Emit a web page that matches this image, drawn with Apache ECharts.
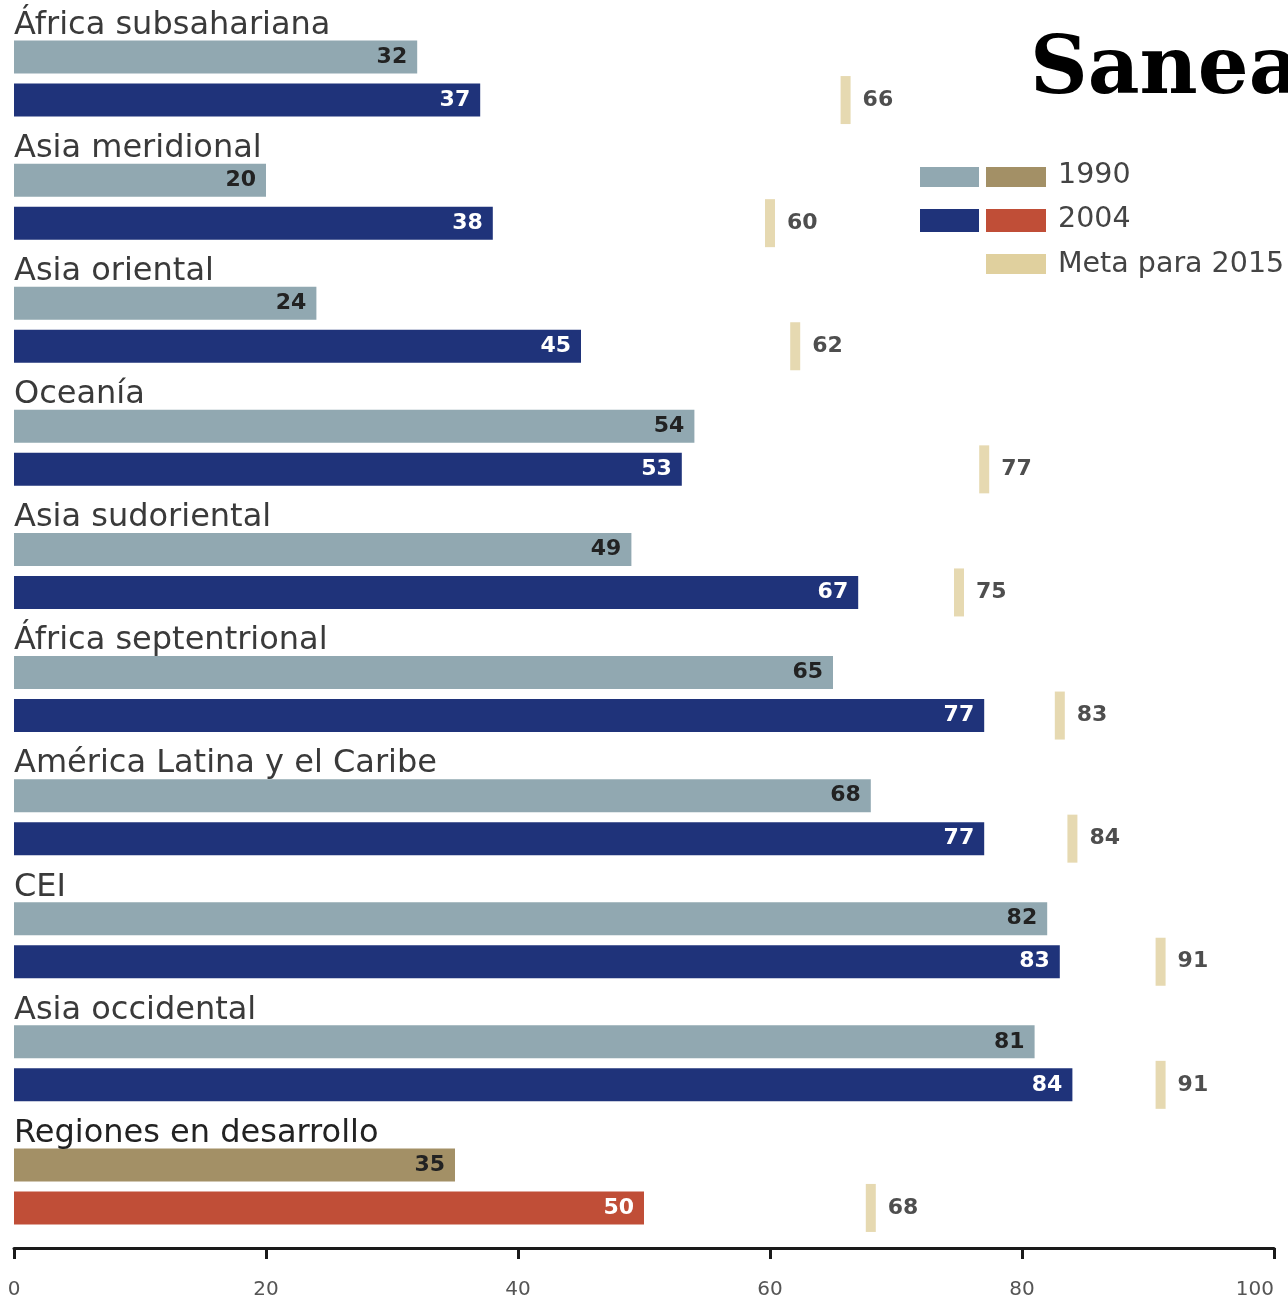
<!DOCTYPE html>
<html>
<head>
<meta charset="utf-8">
<script src="https://cdn.jsdelivr.net/npm/echarts@6/dist/echarts.min.js"></script>
<style>
  html, body { margin: 0; padding: 0; background: #fff; }
  #chart { width: 1288px; height: 1300px; }
</style>
</head>
<body>
<div id="chart"></div>
<script>
// Acceso a saneamiento mejorado (%) por región
const categories = [
  'África subsahariana', 'Asia meridional', 'Asia oriental', 'Oceanía',
  'Asia sudoriental', 'África septentrional', 'América Latina y el Caribe',
  'CEI', 'Asia occidental', 'Regiones en desarrollo'
];
const values1990 = [32, 20, 24, 54, 49, 65, 68, 82, 81, 35];
const values2004 = [37, 38, 45, 53, 67, 77, 77, 83, 84, 50];
const meta2015   = [66, 60, 62, 77, 75, 83, 84, 91, 91, 68];
const xTicks = [0, 20, 40, 60, 80, 100];

const C1990 = '#91a8b1', C2004 = '#1f337a';
const C1990_DEV = '#a39066', C2004_DEV = '#c04e37';
const CMETA = '#e0d09e';
const FONT = '"DejaVu Sans", sans-serif';
const last = categories.length - 1;

const BAR_W = 33, BAR_GAP = 10;
const shift = (BAR_W + BAR_GAP) / 2;

const chart = echarts.init(document.getElementById('chart'), null, { renderer: 'canvas' });

chart.setOption({
  animation: false,
  backgroundColor: '#fff',
  grid: { left: 14, right: 14, top: 17, bottom: 52, outerBoundsMode: 'none', containLabel: false },
  xAxis: {
    type: 'value', min: xTicks[0], max: xTicks[xTicks.length - 1], interval: 20,
    axisLine: { show: true, lineStyle: { color: '#1a1a1a', width: 3 } },
    axisTick: { show: true, length: 11, lineStyle: { color: '#1a1a1a', width: 3 } },
    axisLabel: {
      color: '#555', fontSize: 20, fontFamily: FONT, margin: 32,
      alignMaxLabel: 'right'
    },
    splitLine: { show: false }
  },
  yAxis: {
    type: 'category', data: categories, inverse: true,
    axisLine: { show: false }, axisTick: { show: false }, axisLabel: { show: false }
  },
  series: [
    {
      name: '1990', type: 'bar', barWidth: BAR_W, barGap: (BAR_GAP / BAR_W * 100) + '%',
      data: values1990.map((v, i) => ({
        value: v, itemStyle: { color: i === last ? C1990_DEV : C1990 }
      })),
      label: {
        show: true, position: 'insideRight', distance: 10,
        color: '#222', fontSize: 22, fontWeight: 'bold', fontFamily: FONT
      }
    },
    {
      name: '2004', type: 'bar', barWidth: BAR_W,
      data: values2004.map((v, i) => ({
        value: v, itemStyle: { color: i === last ? C2004_DEV : C2004 }
      })),
      label: {
        show: true, position: 'insideRight', distance: 10,
        color: '#fff', fontSize: 22, fontWeight: 'bold', fontFamily: FONT
      }
    },
    {
      name: 'Meta para 2015', type: 'scatter',
      symbol: 'rect', symbolSize: [10, 48], symbolOffset: [0, shift],
      itemStyle: { color: CMETA },
      data: meta2015.map((v, i) => [v, i]),
      label: {
        show: true, position: 'right', distance: 12,
        formatter: p => p.value[0],
        color: '#222', fontSize: 22, fontWeight: 'bold', fontFamily: FONT
      },
      z: 3
    },
    {
      // nombres de región sobre cada par de barras
      name: 'regiones', type: 'custom',
      data: categories.map((c, i) => [0, i]),
      renderItem: (params, api) => {
        const idx = api.value(1);
        const p = api.coord([0, idx]);
        return {
          type: 'text',
          x: p[0], y: p[1] - 53,
          style: {
            text: categories[idx],
            fill: idx === last ? '#222' : '#3a3a3a',
            font: '32px ' + FONT,
            verticalAlign: 'middle', align: 'left'
          }
        };
      },
      silent: true, z: 4
    }
  ],
  graphic: [
    {
      type: 'text', left: 1030, top: 32,
      style: { text: 'Saneamiento', fill: '#000', font: 'bold 80px "DejaVu Serif", serif' }
    },
    { type: 'rect', shape: { x: 920, y: 167, width: 59, height: 20 }, style: { fill: C1990 } },
    { type: 'rect', shape: { x: 986, y: 167, width: 60, height: 20 }, style: { fill: C1990_DEV } },
    { type: 'text', x: 1058, y: 176, style: { text: '1990', fill: '#444', font: '28.5px ' + FONT, verticalAlign: 'middle' } },
    { type: 'rect', shape: { x: 920, y: 209, width: 59, height: 23 }, style: { fill: C2004 } },
    { type: 'rect', shape: { x: 986, y: 209, width: 60, height: 23 }, style: { fill: C2004_DEV } },
    { type: 'text', x: 1058, y: 220, style: { text: '2004', fill: '#444', font: '28.5px ' + FONT, verticalAlign: 'middle' } },
    { type: 'rect', shape: { x: 986, y: 254, width: 60, height: 20 }, style: { fill: CMETA } },
    { type: 'text', x: 1058, y: 265, style: { text: 'Meta para 2015', fill: '#444', font: '28.5px ' + FONT, verticalAlign: 'middle' } }
  ]
});
</script>
</body>
</html>
